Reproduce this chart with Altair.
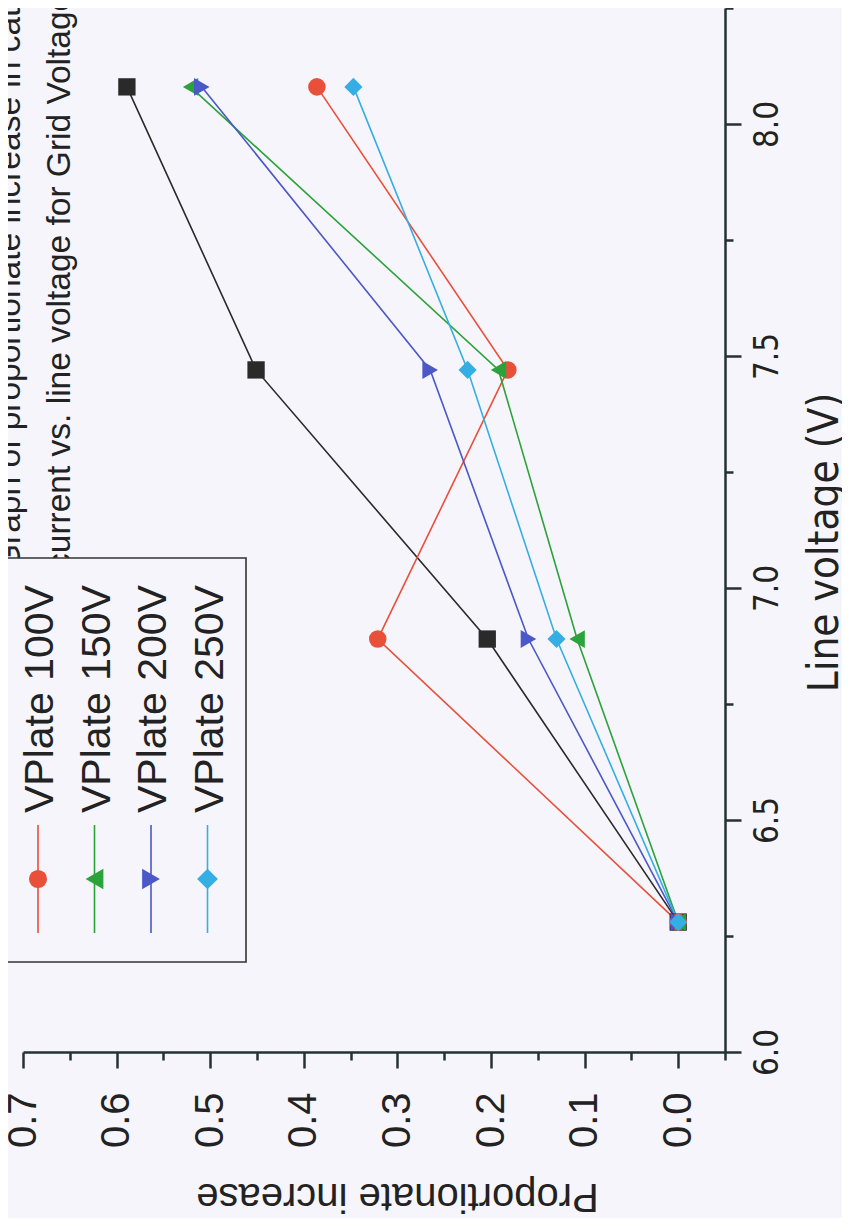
import altair as alt
import pandas as pd

# ---- data ----
line_voltage = [6.28, 6.89, 7.47, 8.08]
series_names = ["VPlate 50V", "VPlate 100V", "VPlate 150V", "VPlate 200V", "VPlate 250V"]
inc_50 = [0.0, 0.204, 0.451, 0.589]
inc_100 = [0.0, 0.321, 0.182, 0.386]
inc_150 = [0.0, 0.108, 0.192, 0.521]
inc_200 = [0.0, 0.160, 0.265, 0.509]
inc_250 = [0.0, 0.130, 0.225, 0.347]
legend_names = ["VPlate 100V", "VPlate 150V", "VPlate 200V", "VPlate 250V"]
title_lines = ["Graph of proportionate increase in cathode",
               "current vs. line voltage for Grid Voltage"]
x_ticks = [-0.05, 0.0, 0.05, 0.1, 0.15, 0.2, 0.25, 0.3, 0.35, 0.4, 0.45, 0.5, 0.55, 0.6, 0.65, 0.7]
y_ticks = [6.0, 6.25, 6.5, 6.75, 7.0, 7.25, 7.5, 7.75, 8.0, 8.25]

# ---- styles ----
colors = ["#2a2a2a", "#e8503a", "#2ba33a", "#4a58c8", "#35aee3"]
shapes = ["square", "circle", "triangle-left", "triangle-right", "diamond"]
sizes = [300, 330, 420, 420, 430]
BG = "#f6f5fb"
AX = "#243232"
FONT = "Liberation Sans, Arial, sans-serif"
NARROW = "Liberation Sans Narrow, DejaVu Sans Condensed, Liberation Sans, sans-serif"

rows = []
for name, vals in zip(series_names, [inc_50, inc_100, inc_150, inc_200, inc_250]):
    for v, p in zip(line_voltage, vals):
        rows.append({"series": name, "voltage": v, "inc": p})
df = pd.DataFrame(rows)

x_scale = alt.Scale(domain=[-0.05, 0.7], reverse=True, nice=False, zero=False)
y_scale = alt.Scale(domain=[6.0, 8.25], nice=False, zero=False)
color_scale = alt.Scale(domain=series_names, range=colors)
shape_scale = alt.Scale(domain=series_names, range=shapes)
size_scale = alt.Scale(domain=series_names, range=sizes)

x_major = "abs(datum.value*10 - round(datum.value*10)) < 0.01"
y_major = "abs(datum.value*2 - round(datum.value*2)) < 0.01"

x_axis = alt.Axis(
    orient="bottom", values=x_ticks, grid=False,
    labelExpr=f"{x_major} ? format(datum.value, '.1f') : ''",
    tickSize={"condition": {"test": x_major, "value": 16}, "value": 8},
    tickWidth=2.5, tickColor=AX, domainWidth=2.5, domainColor=AX,
    labelAngle=-90, labelAlign="right", labelBaseline="middle", labelPadding=24,
    labelFont=FONT, labelFontSize=40, labelColor="#222222", labelOverlap=False, labelFlush=False,
    title="Proportionate increase", titleAngle=180, titleX=374, titleY=131,
    titleAlign="center", titleBaseline="alphabetic", titleFont=FONT, titleFontSize=40,
    titleFontWeight="normal", titleColor="#222222",
)
y_axis = alt.Axis(
    orient="right", values=y_ticks, grid=False,
    labelExpr=f"{y_major} ? format(datum.value, '.1f') : ''",
    tickSize={"condition": {"test": y_major, "value": 16}, "value": 8},
    tickWidth=2.5, tickColor=AX, domainWidth=2.5, domainColor=AX,
    labelAngle=-90, labelAlign="center", labelBaseline="top", labelPadding=10,
    labelFont=NARROW, labelFontSize=33, labelColor="#222222", labelOverlap=False, labelFlush=False,
    title="Line voltage (V)", titleAngle=-90, titleX=112, titleY=534,
    titleAlign="center", titleBaseline="alphabetic", titleFont=NARROW, titleFontSize=42,
    titleFontWeight="normal", titleColor="#222222",
)

base = alt.Chart(df)
lines = base.mark_line(strokeWidth=1.6).encode(
    x=alt.X("inc:Q", scale=x_scale, axis=x_axis),
    y=alt.Y("voltage:Q", scale=y_scale, axis=y_axis),
    color=alt.Color("series:N", scale=color_scale, legend=None),
    order=alt.Order("voltage:Q"),
)
points = base.mark_point(filled=True, opacity=1).encode(
    x=alt.X("inc:Q", scale=x_scale),
    y=alt.Y("voltage:Q", scale=y_scale),
    color=alt.Color("series:N", scale=color_scale, legend=None),
    shape=alt.Shape("series:N", scale=shape_scale, legend=None),
    size=alt.Size("series:N", scale=size_scale, legend=None),
)

layers = [lines, points]

# title text inside the plot (rotated like the whole figure)
for i, t in enumerate(title_lines):
    layers.append(
        alt.Chart(alt.Data(values=[{"t": t}])).mark_text(
            angle=270, align="left", baseline="alphabetic", font=FONT, fontSize=33.5, color="#222222"
        ).encode(x=alt.value(-3 + 50 * i), y=alt.value(562), text="t:N")
    )

# legend box and entries
layers.append(
    alt.Chart(alt.Data(values=[{}])).mark_rect(fill=BG, stroke="#333333", strokeWidth=1.6).encode(
        x=alt.value(-40), x2=alt.value(223), y=alt.value(550), y2=alt.value(954)
    )
)
for i, name in enumerate(legend_names):
    k = i + 1
    sx = 15 + 56.5 * i
    layers.append(
        alt.Chart(alt.Data(values=[{}])).mark_rule(color=colors[k], strokeWidth=1.6).encode(
            x=alt.value(sx), y=alt.value(817), y2=alt.value(925)
        )
    )
    layers.append(
        alt.Chart(alt.Data(values=[{}])).mark_point(
            shape=shapes[k], filled=True, opacity=1, size=sizes[k], color=colors[k]
        ).encode(x=alt.value(sx), y=alt.value(871))
    )
    layers.append(
        alt.Chart(alt.Data(values=[{"t": name}])).mark_text(
            angle=270, align="left", baseline="alphabetic", font=FONT, fontSize=41, color="#222222"
        ).encode(x=alt.value(sx + 15), y=alt.value(805), text="t:N")
    )

chart = alt.layer(*layers).properties(
    width=702, height=1044,
    autosize=alt.AutoSizeParams(type="none"),
    padding={"left": 15, "top": 0, "right": 117, "bottom": 166},
    background=BG,
).configure_view(stroke=None)

chart.save("out.html", embed_options={"renderer": "svg", "actions": False})
